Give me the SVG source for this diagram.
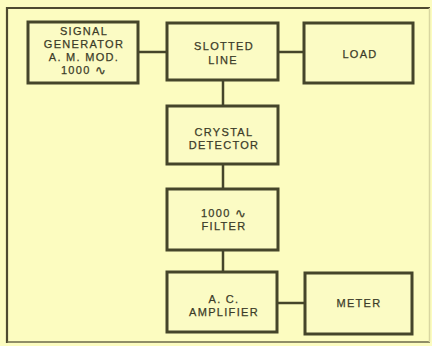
<svg xmlns="http://www.w3.org/2000/svg" width="432" height="346" viewBox="0 0 432 346">
<style>
.box{fill:#fbfbc4;stroke:#45452a;stroke-width:3}
.wire{stroke:#45452a;stroke-width:2.5;fill:none}
text{font-family:"Liberation Sans","DejaVu Sans",sans-serif;font-size:11px;fill:#3b3b28;stroke:#3b3b28;stroke-width:0.25;text-anchor:middle;letter-spacing:1.3px;dominant-baseline:central}
.wave{font-family:"DejaVu Sans",sans-serif;font-size:13px}
</style>
<rect x="0" y="0" width="432" height="346" fill="#fcfcc0"/>
<g id="frame">
<path d="M7,343 L7,8 L430,8" fill="none" stroke="#4e4a30" stroke-width="2.2"/>
<path d="M7,342 L430,342" fill="none" stroke="#6d6a4a" stroke-width="1.5"/>
<path d="M429.5,8 L429.5,342" fill="none" stroke="#d8d6a0" stroke-width="1.5"/>
</g>
<g id="connectors">
<line class="wire" x1="138" y1="52" x2="167" y2="52"/>
<line class="wire" x1="278" y1="52" x2="304" y2="52"/>
<line class="wire" x1="223" y1="80" x2="223" y2="106"/>
<line class="wire" x1="223" y1="164" x2="223" y2="189"/>
<line class="wire" x1="223" y1="250" x2="223" y2="272"/>
<line class="wire" x1="277" y1="303" x2="305" y2="303"/>
</g>
<g id="signal-generator">
<rect class="box" x="28" y="22" width="110" height="61"/>
<text x="84" y="31">SIGNAL</text>
<text x="84" y="44">GENERATOR</text>
<text x="84" y="57">A. M. MOD.</text>
<text x="84" y="70">1000 <tspan class="wave">∿</tspan></text>
</g>
<g id="slotted-line">
<rect class="box" x="167" y="23" width="111" height="57"/>
<text x="224" y="46">SLOTTED</text>
<text x="223" y="60">LINE</text>
</g>
<g id="load">
<rect class="box" x="304" y="23" width="109" height="60"/>
<text x="360" y="54">LOAD</text>
</g>
<g id="crystal-detector">
<rect class="box" x="167" y="106" width="111" height="58"/>
<text x="224" y="132">CRYSTAL</text>
<text x="224" y="145">DETECTOR</text>
</g>
<g id="filter">
<rect class="box" x="167" y="189" width="111" height="61"/>
<text x="224" y="213">1000 <tspan class="wave">∿</tspan></text>
<text x="224" y="226">FILTER</text>
</g>
<g id="amplifier">
<rect class="box" x="167" y="272" width="110" height="60"/>
<text x="224" y="299">A. C.</text>
<text x="224" y="312">AMPLIFIER</text>
</g>
<g id="meter">
<rect class="box" x="305" y="273" width="107" height="61"/>
<text x="359" y="303">METER</text>
</g>
</svg>
